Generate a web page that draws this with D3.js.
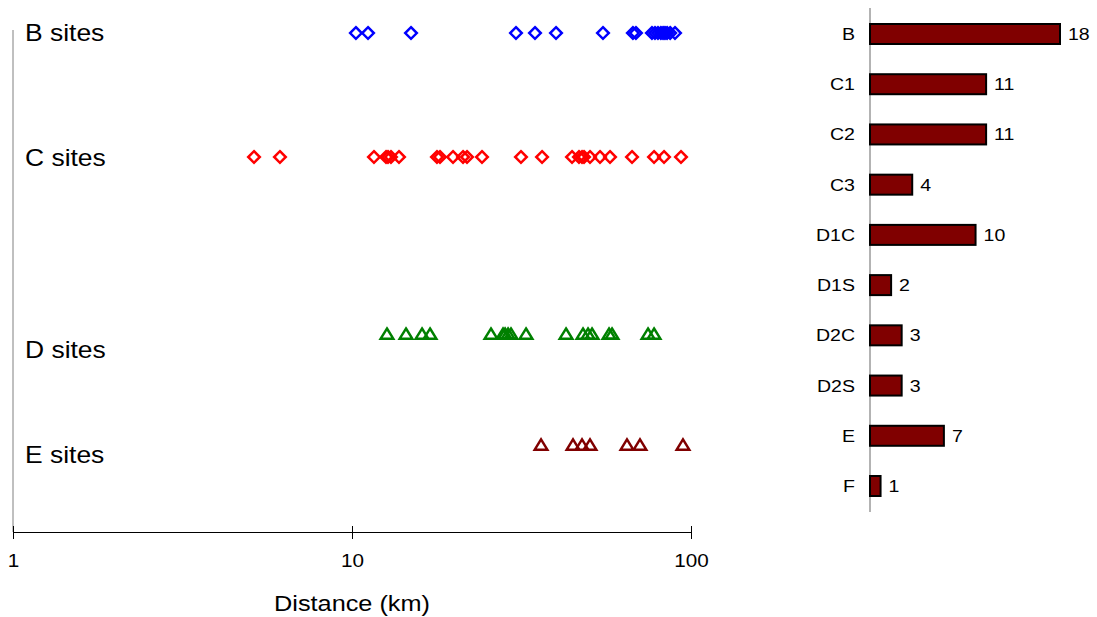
<!DOCTYPE html>
<html>
<head>
<meta charset="utf-8">
<script src="https://cdn.jsdelivr.net/npm/d3@7"></script>
<style>
  html, body { margin: 0; padding: 0; background: #fff; }
  svg { display: block; font-family: "Liberation Sans", Arial, sans-serif; }
</style>
</head>
<body>
<svg id="chart" width="1097" height="617"></svg>
<script>
// Distances (km) of sites in each group
const bSites = [10.27, 11.15, 14.93, 30.46, 34.66, 39.98, 55.0, 67.4, 68.8, 76.7, 78.3, 79.9, 81.5, 82.7, 83.8, 85.0, 86.8, 89.7];
const cSites = [5.14, 6.13, 11.61, 12.6, 12.77, 13.03, 13.76, 17.81, 18.18, 19.86, 21.26, 21.84, 24.18, 31.51, 36.36, 44.57, 46.73, 47.7, 48.35, 50.36, 53.9, 57.69, 66.99, 77.8, 83.26, 93.43];
const dSites = [12.68, 14.43, 16.09, 16.99, 25.7, 27.89, 28.28, 28.86, 29.44, 32.61, 42.79, 48.02, 49.68, 51.05, 57.3, 58.48, 74.68, 77.8];
const eSites = [36.11, 44.87, 47.7, 50.36, 64.74, 70.72, 94.7];

// Row levels on the vertical (unitless) scale
const rowNames = ["B sites", "C sites", "D sites", "E sites"];
const rowLevels = [9.94, 7.47, 3.94, 1.73];
const labelLevels = [9.94, 7.45, 3.63, 1.53];
const rowShapes = ["diamond", "diamond", "triangle", "triangle"];
const rowColors = ["#0000FF", "#FF0000", "#008000", "#800000"];
const rowData = [bSites, cSites, dSites, eSites];

const xTicks = [1, 10, 100];

// Site counts by category
const categories = ["B", "C1", "C2", "C3", "D1C", "D1S", "D2C", "D2S", "E", "F"];
const counts = [18, 11, 11, 4, 10, 2, 3, 3, 7, 1];

const svg = d3.select("#chart");

// Text is drawn slightly widened, like the original Arial output
const widen = 1.15;
function stretchText(sel, anchorX) {
  sel.attr("transform", function () {
    const ax = anchorX(this);
    return `translate(${ax},0) scale(${widen},1) translate(${-ax},0)`;
  });
}

// ---- Distance strip plot ----
const x = d3.scaleLog().domain([1, 100]).range([13, 691]);
const y = d3.scaleLinear().domain([0, 10]).range([532, 30]);

// left vertical line
svg.append("line")
  .attr("x1", x(1)).attr("x2", x(1))
  .attr("y1", y(10)).attr("y2", y(0))
  .attr("stroke", "#808080").attr("stroke-width", 1);

// bottom axis
const xAxis = d3.axisBottom(x).tickValues(xTicks).tickFormat(d3.format("d")).tickSizeOuter(0).tickSize(0);
const gx = svg.append("g").attr("transform", `translate(0,${y(0)})`).call(xAxis);
gx.select(".domain").attr("stroke", "#000").attr("stroke-width", 1);
gx.selectAll(".tick line").remove();
gx.selectAll(".tick").append("line")
  .attr("y1", -6).attr("y2", 7).attr("stroke", "#000").attr("stroke-width", 1);
gx.selectAll(".tick text")
  .attr("y", 22).attr("dy", "0.71em")
  .attr("font-size", 18).attr("fill", "#000")
  .attr("font-family", "Liberation Sans, Arial, sans-serif")
  .attr("transform", `scale(${widen},1)`);

svg.append("text")
  .attr("x", x(10)).attr("y", 611)
  .attr("text-anchor", "middle")
  .attr("font-size", 22)
  .text("Distance (km)")
  .call(stretchText, () => x(10));

// row labels
svg.selectAll(".row-label")
  .data(rowNames)
  .join("text")
  .attr("class", "row-label")
  .attr("x", 25)
  .attr("y", (d, i) => y(labelLevels[i]))
  .attr("dy", "0.35em")
  .attr("font-size", 23)
  .text(d => d)
  .call(stretchText, () => 25);

// markers
const diamond = s => `M0,${-s}L${s},0L0,${s}L${-s},0Z`;
const triangle = s => `M0,${-s * 0.95}L${s * 1.05},${s * 0.75}L${-s * 1.05},${s * 0.75}Z`;

rowData.forEach((vals, i) => {
  const path = rowShapes[i] === "diamond" ? diamond(5.8) : triangle(6);
  svg.append("g").selectAll("path")
    .data(vals)
    .join("path")
    .attr("transform", d => `translate(${x(d)},${y(rowLevels[i])})`)
    .attr("d", path)
    .attr("fill", "none")
    .attr("stroke", rowColors[i])
    .attr("stroke-width", 2.5)
    .attr("stroke-linejoin", "miter");
});

// ---- Counts bar chart ----
const bx = d3.scaleLinear().domain([0, 18]).range([870, 1060]);
const by = d3.scalePoint().domain(categories).range([34, 486]);
const barH = 20;

svg.append("line")
  .attr("x1", bx(0)).attr("x2", bx(0))
  .attr("y1", 8).attr("y2", 512)
  .attr("stroke", "#808080").attr("stroke-width", 1.2);

svg.selectAll(".bar")
  .data(categories)
  .join("rect")
  .attr("class", "bar")
  .attr("x", bx(0))
  .attr("y", d => by(d) - barH / 2)
  .attr("width", (d, i) => bx(counts[i]) - bx(0))
  .attr("height", barH)
  .attr("fill", "#800000")
  .attr("stroke", "#000")
  .attr("stroke-width", 2);

svg.selectAll(".cat-label")
  .data(categories)
  .join("text")
  .attr("class", "cat-label")
  .attr("x", 855)
  .attr("y", d => by(d))
  .attr("dy", "0.35em")
  .attr("text-anchor", "end")
  .attr("font-size", 17)
  .text(d => d)
  .call(stretchText, () => 855);

svg.selectAll(".val-label")
  .data(categories)
  .join("text")
  .attr("class", "val-label")
  .attr("x", (d, i) => bx(counts[i]) + 8)
  .attr("y", d => by(d))
  .attr("dy", "0.35em")
  .attr("font-size", 17)
  .text((d, i) => counts[i])
  .call(stretchText, function (node) { return +node.getAttribute("x"); });
</script>
</body>
</html>
